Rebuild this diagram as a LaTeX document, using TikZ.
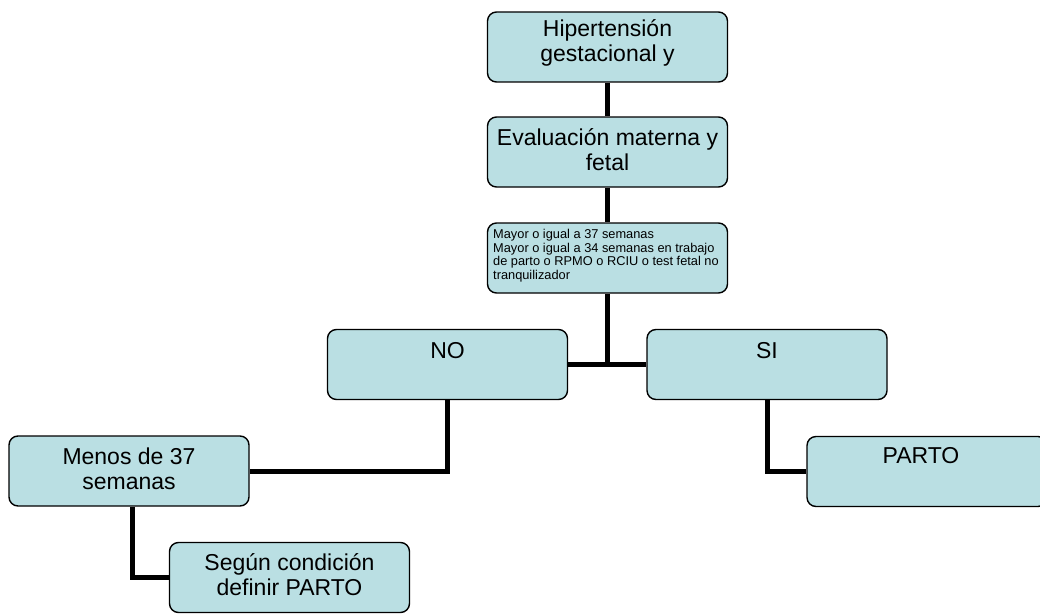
\documentclass[tikz,border=0pt]{standalone}
\usepackage{fontspec}
\setmainfont{Liberation Sans}
\usetikzlibrary{backgrounds}
\definecolor{boxfill}{RGB}{186,223,227}
\newcommand\tsA{\rule{0pt}{20pt}}
\newcommand\tsB{\rule{0pt}{12pt}}
\begin{document}
\begin{tikzpicture}[x=1pt,y=-1pt,
  box/.style={draw=black,line width=1.4pt,fill=boxfill,rounded corners=9pt,minimum width=240pt,minimum height=70pt,inner sep=0pt},
  conn/.style={line width=5pt},
  big/.style={font=\fontsize{23}{25}\selectfont,align=center,anchor=north,inner sep=0pt},
  small/.style={font=\fontsize{12.8}{13.8}\selectfont,align=left,anchor=north west,inner sep=0pt}]
\useasboundingbox (0,0) rectangle (1040,615);
% boxes
\node[box] (b1) at (607.5,47) {};
\node[box] (b2) at (607.5,152) {};
\node[box] (b3) at (607.5,258) {};
\node[box] (no) at (447.5,364.5) {};
\node[box] (si) at (767,364.5) {};
\node[box] (menos) at (129,471) {};
\node[box] (parto) at (927,471.5) {};
\node[box] (segun) at (289.5,577.5) {};
% texts
\node[big] (t1) at (607.5,16) {\tsA Hipertensión\\gestacional y};
\node[big] (t2) at (607.5,125) {\tsA Evaluación materna y\\fetal};
\node[small] (t3) at (493,226) {\tsB Mayor o igual a 37 semanas\\Mayor o igual a 34 semanas en trabajo\\de parto o RPMO o RCIU o test fetal no\\tranquilizador};
\node[big] (t4) at (447.5,338) {\tsA NO};
\node[big] (t5) at (767,338) {\tsA SI};
\node[big] (t6) at (921,443) {\tsA PARTO};
\node[big] (t7) at (129,444) {\tsA Menos de 37\\semanas};
\node[big] (t8) at (289.5,550) {\tsA Según condición\\definir PARTO};
% connectors
\begin{scope}[on background layer]
\coordinate (j) at (607.5,364.5);
\draw[conn] (b1.south) -- (b2.north);
\draw[conn] (b2.south) -- (b3.north);
\draw[conn] (b3.south) -- (j);
\draw[conn] (no.east) -- (si.west);
\draw[conn] (no.south) |- (menos.east);
\draw[conn] (si.south) |- (parto.west);
\draw[conn] ([xshift=3pt]menos.south) |- (segun.west);
\end{scope}
\end{tikzpicture}
\end{document}
